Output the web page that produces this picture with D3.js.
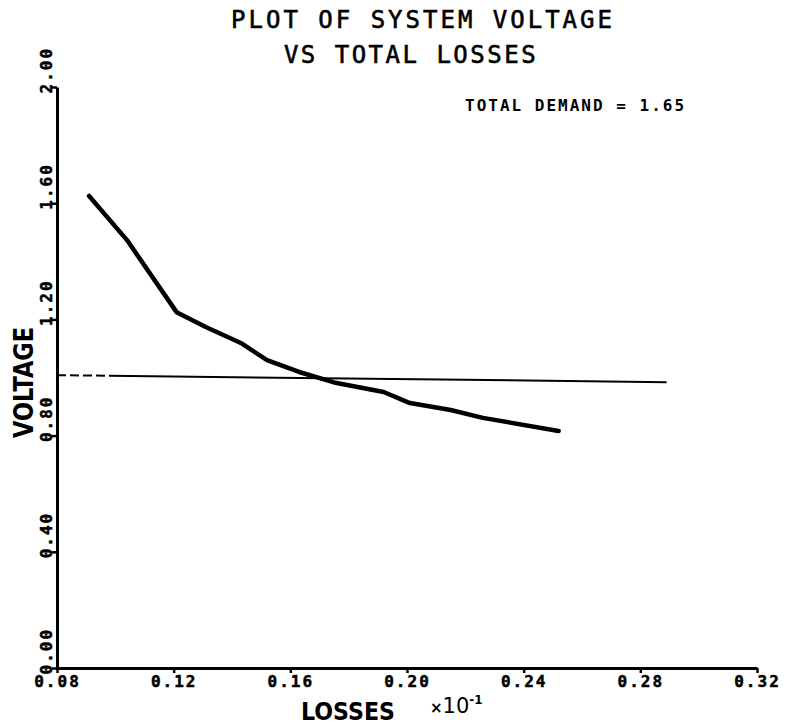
<!DOCTYPE html>
<html>
<head>
<meta charset="utf-8">
<script src="https://cdn.jsdelivr.net/npm/d3@7"></script>
<style>
  body { margin: 0; background: #fff; }
  svg { display: block; }
  text { font-family: "DejaVu Sans Mono", monospace; fill: #000; }
</style>
</head>
<body>
<svg id="svg1" width="796" height="727"></svg>
<script>
// losses (x 10^-1) and system voltage
var losses  = [0.091, 0.104, 0.121, 0.131, 0.143, 0.152, 0.163, 0.175, 0.192, 0.201, 0.215, 0.226, 0.252];
var voltage = [1.625, 1.473, 1.225, 1.174, 1.119, 1.060, 1.019, 0.983, 0.950, 0.912, 0.888, 0.861, 0.816];

// the flat reference line near 1.0
var refLosses  = [0.080, 0.289];
var refVoltage = [1.008, 0.984];

var xTicks = [0.08, 0.12, 0.16, 0.20, 0.24, 0.28, 0.32];
var yTicks = [0.00, 0.40, 0.80, 1.20, 1.60, 2.00];

var marginLeft = 57;
var marginTop = 87;
var width = 700;
var height = 581;

var root = d3.select('svg');

var svg = root.append('g')
              .attr('transform', 'translate(' + marginLeft + ',' + marginTop + ')');

var x = d3.scaleLinear().domain([0.08, 0.32]).range([0, width]);
var y = d3.scaleLinear().domain([0, 2]).range([height, 0]);

// x axis
var xAxis = svg.append('g')
               .attr('transform', 'translate(0,' + height + ')')
               .call(d3.axisBottom(x).tickValues(xTicks).tickFormat(d3.format('.2f')).tickSize(5).tickSizeOuter(0));

xAxis.select('.domain').attr('stroke-width', 3);
xAxis.selectAll('.tick line').attr('stroke-width', 2.5);
xAxis.selectAll('.tick text')
     .attr('y', 8)
     .attr('dy', '0.71em')
     .style('font-size', '16px')
     .style('font-weight', 'bold')
     .style('letter-spacing', '2px')
     .style('stroke', '#000')
     .style('stroke-width', 0.5)
     .style('font-family', '"DejaVu Sans Mono", monospace');

// y axis, labels rotated to read upward
var yAxis = svg.append('g')
               .call(d3.axisLeft(y).tickValues(yTicks).tickFormat(d3.format('.2f')).tickSize(5).tickSizeOuter(0));

yAxis.select('.domain').attr('stroke-width', 3);
yAxis.selectAll('.tick line').attr('stroke-width', 2.5);
yAxis.selectAll('.tick text')
     .attr('x', 0)
     .attr('dy', 0)
     .attr('text-anchor', 'start')
     .attr('transform', 'translate(-5,6) rotate(-90)')
     .style('font-size', '16px')
     .style('font-weight', 'bold')
     .style('letter-spacing', '2px')
     .style('stroke', '#000')
     .style('stroke-width', 0.5)
     .style('font-family', '"DejaVu Sans Mono", monospace');

// reference line, dashed where it leaves the axis
var line = d3.line()
             .x(function(d) { return x(d[0]); })
             .y(function(d) { return y(d[1]); });

svg.append('path')
   .datum(d3.zip(refLosses, refVoltage))
   .attr('fill', 'none')
   .attr('stroke', '#000')
   .attr('stroke-width', 2)
   .attr('stroke-dasharray', '9,4,9,4,9,4,9,4,2000,1')
   .attr('d', line);

// voltage curve
svg.append('path')
   .datum(d3.zip(losses, voltage))
   .attr('fill', 'none')
   .attr('stroke', '#000')
   .attr('stroke-width', 4.5)
   .attr('stroke-linejoin', 'round')
   .attr('stroke-linecap', 'round')
   .attr('d', line);

// titles
root.append('text')
    .attr('x', 423).attr('y', 28)
    .attr('text-anchor', 'middle')
    .style('font-size', '24px')
    .style('letter-spacing', '3px')
    .style('stroke', '#000')
    .style('stroke-width', 0.6)
    .text('PLOT OF SYSTEM VOLTAGE');

root.append('text')
    .attr('x', 411).attr('y', 63)
    .attr('text-anchor', 'middle')
    .style('font-size', '24px')
    .style('letter-spacing', '2.5px')
    .style('stroke', '#000')
    .style('stroke-width', 0.6)
    .text('VS TOTAL LOSSES');

root.append('text')
    .attr('x', 465).attr('y', 111)
    .style('font-size', '16px')
    .style('font-weight', 'bold')
    .style('letter-spacing', '2px')
    .text('TOTAL DEMAND = 1.65');

// axis titles
root.append('text')
    .attr('x', 301).attr('y', 720)
    .attr('textLength', 94)
    .attr('lengthAdjust', 'spacingAndGlyphs')
    .style('font-size', '25px')
    .style('font-weight', 'bold')
    .style('font-family', '"DejaVu Sans", sans-serif')
    .text('LOSSES');

var mult = root.append('text')
    .attr('x', 430).attr('y', 713)
    .style('font-size', '21px')
    .style('font-family', '"DejaVu Sans", sans-serif');
mult.append('tspan').style('font-size', '15px').style('font-weight', 'bold').text('\u00d7');
mult.append('tspan').text('10');
mult.append('tspan').attr('dy', -9).style('font-size', '12px').style('font-weight', 'bold').text('-1');

root.append('text')
    .attr('transform', 'translate(33,438) rotate(-90)')
    .attr('textLength', 111)
    .attr('lengthAdjust', 'spacingAndGlyphs')
    .style('font-size', '27px')
    .style('font-weight', 'bold')
    .style('font-family', '"DejaVu Sans", sans-serif')
    .text('VOLTAGE');
</script>
</body>
</html>
